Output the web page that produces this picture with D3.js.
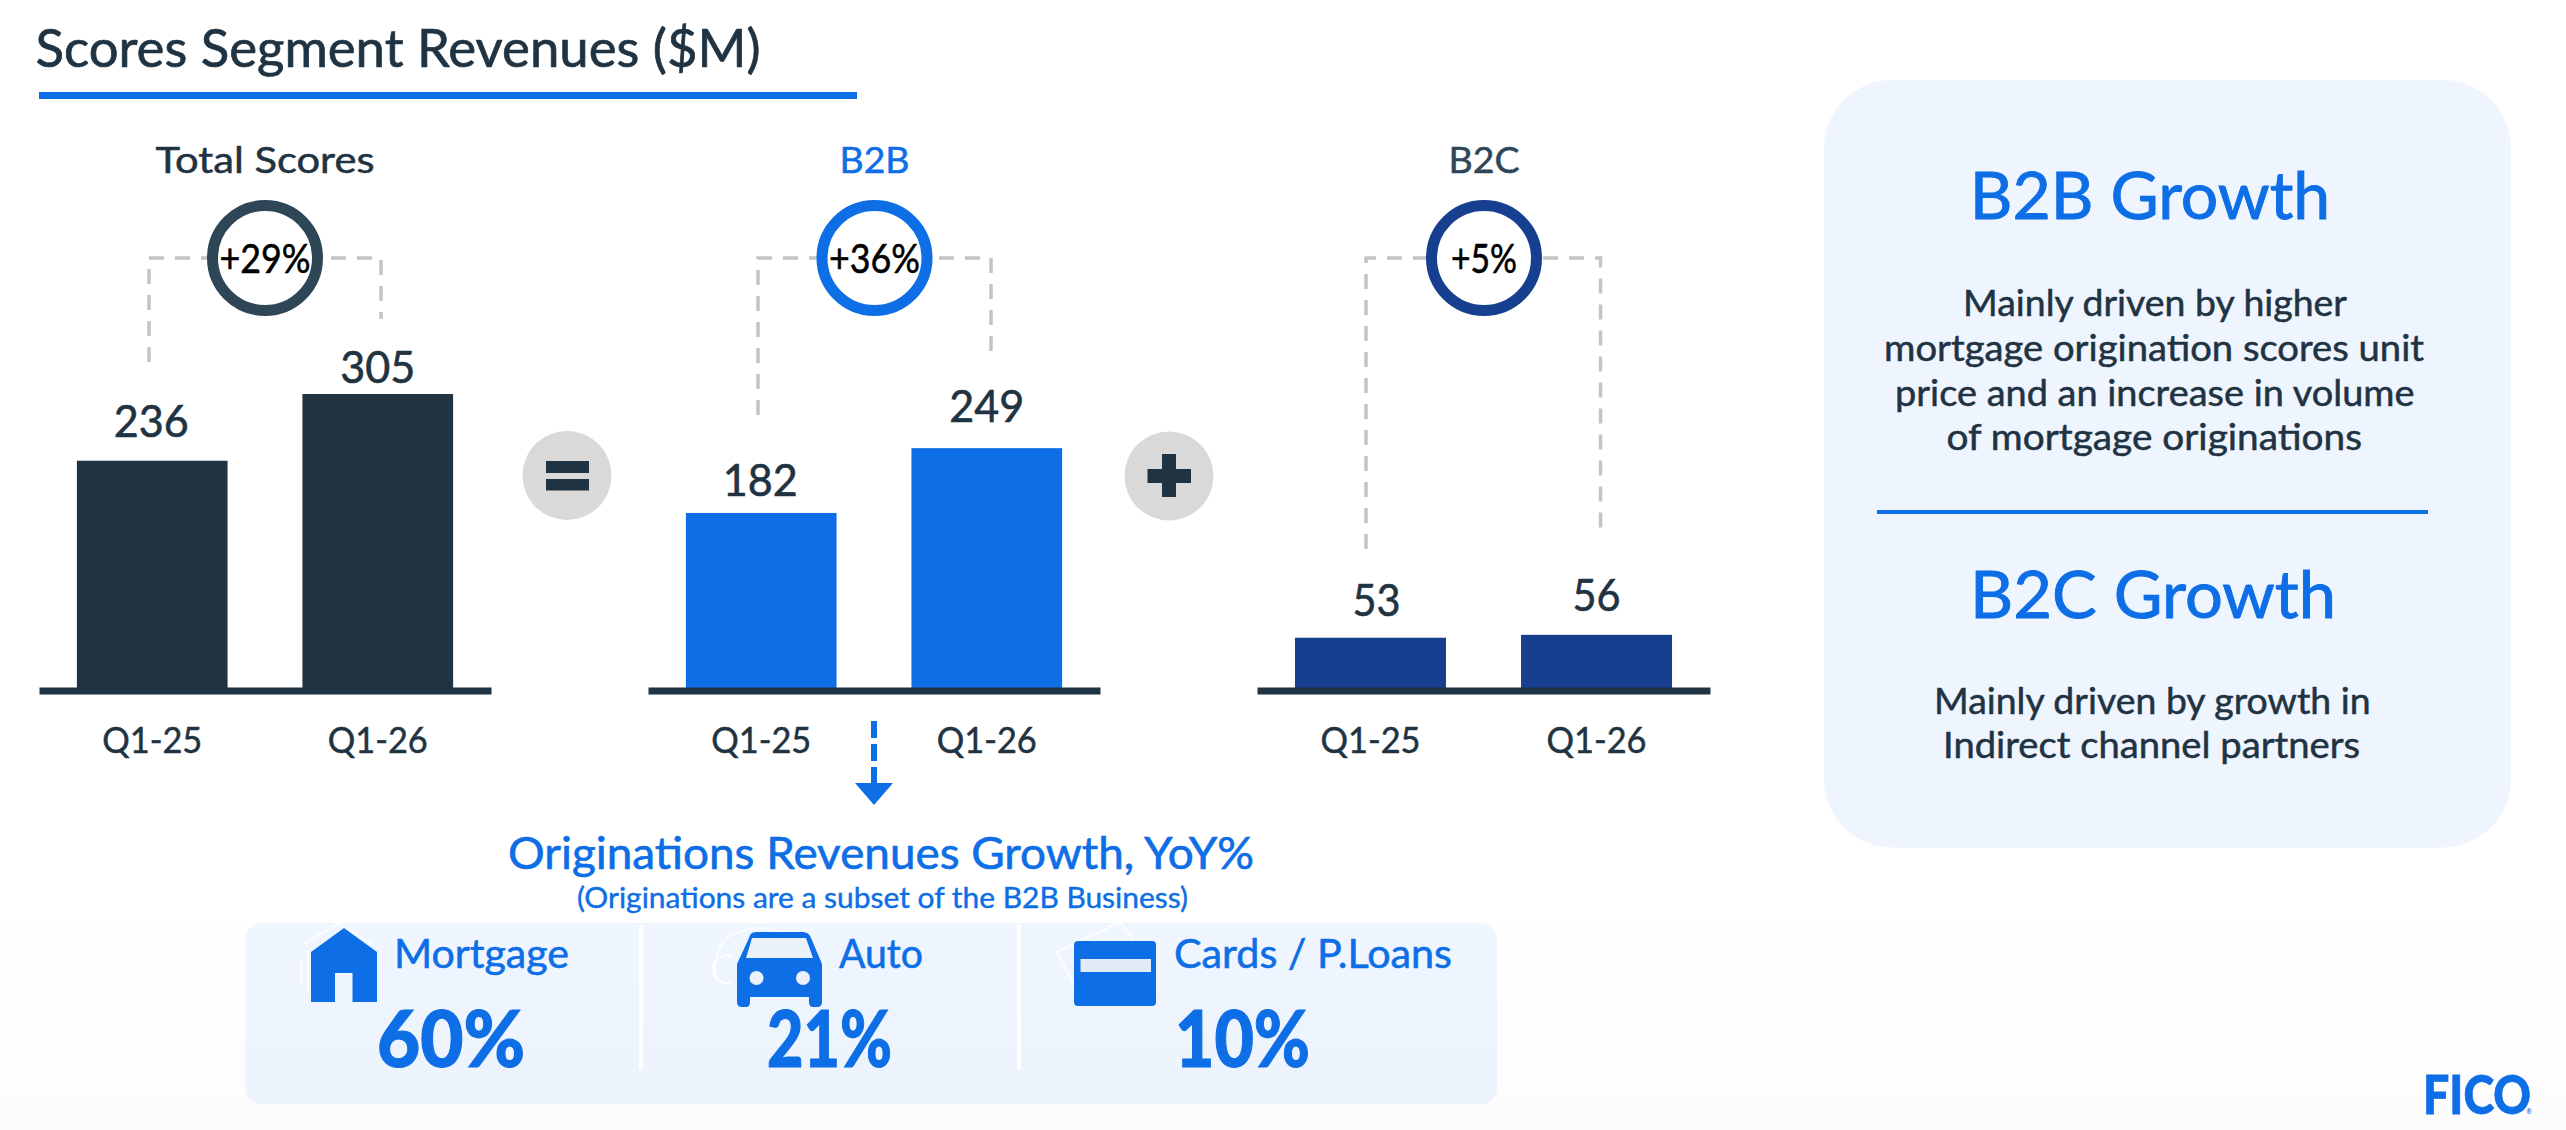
<!DOCTYPE html>
<html lang="en">
<head>
<meta charset="UTF-8">
<title>Scores Segment Revenues</title>
<script src="https://d3js.org/d3.v7.min.js"></script>
<style>
    html, body { margin: 0; padding: 0; background: #fff; }
    svg { display: block; }
    text { font-family: Lato, "Open Sans", sans-serif; }
</style>
</head>
<body>
<div id="chart"></div>
<script>
    // values
    const quarters = ["Q1-25", "Q1-26"];
    const totalValues = [236, 305];
    const b2bValues = [182, 249];
    const b2cValues = [53, 56];
    const panelNames = ["Total Scores", "B2B", "B2C"];
    const panelGrowth = ["+29%", "+36%", "+5%"];
    const originationNames = ["Mortgage", "Auto", "Cards / P.Loans"];
    const originationGrowth = ["60%", "21%", "10%"];

    const dark = "#1f3342", blue = "#0d6ee6", navy = "#163f8f", slate = "#2f4656";
    const W = 2566, H = 1130;

    const svg = d3.select("#chart").append("svg").attr("width", W).attr("height", H);

    const defs = svg.append("defs");
    const bg = defs.append("linearGradient").attr("id", "bg").attr("x1", 0).attr("x2", 0).attr("y1", 0).attr("y2", 1);
    bg.append("stop").attr("offset", "0.8").attr("stop-color", "#ffffff");
    bg.append("stop").attr("offset", "1").attr("stop-color", "#fcfcfd");
    const pg = defs.append("linearGradient").attr("id", "panel").attr("x1", 0).attr("x2", 0).attr("y1", 0).attr("y2", 1);
    pg.append("stop").attr("offset", "0").attr("stop-color", "#eff6ff");
    pg.append("stop").attr("offset", "1").attr("stop-color", "#ecf3fd");

    svg.append("rect").attr("width", W).attr("height", H).attr("fill", "url(#bg)");

    // text helper, width is the ink width seen in the reference
    // thin stroke thickens Lato towards the heavier face of the reference
    function label(g, str, x, y, size, width, color, weight) {
        return g.append("text")
            .attr("x", x).attr("y", y)
            .attr("text-anchor", "middle")
            .attr("font-size", size)
            .attr("font-weight", weight || 400)
            .attr("fill", color)
            .attr("stroke", color)
            .attr("stroke-width", size * 0.014)
            .attr("textLength", width)
            .attr("lengthAdjust", "spacingAndGlyphs")
            .text(str);
    }

    // title
    label(svg, "Scores Segment Revenues ($M)", 398, 67, 52, 725, dark);
    svg.append("rect").attr("x", 39).attr("y", 92).attr("width", 818).attr("height", 7).attr("fill", blue);

    // bar panels, all on one y scale
    const y = d3.scaleLinear().domain([0, 305]).range([689, 394]);
    const axisY = 690.5;

    const panels = [
        {name: panelNames[0], growth: panelGrowth[0], values: totalValues, range: [39, 491], bar: dark, ring: slate, title: dark,
            cx: 265, left: 149, right: 381, leftEnd: 362, rightEnd: 319, gaps: [24, 11], shift: [-1, 0], titleW: 219, growthW: 91},
        {name: panelNames[1], growth: panelGrowth[1], values: b2bValues, range: [648, 1100], bar: blue, ring: blue, title: blue,
            cx: 874.5, left: 758, right: 991, leftEnd: 415, rightEnd: 356, gaps: [17, 26], shift: [-1, 0], titleW: 70, growthW: 91},
        {name: panelNames[2], growth: panelGrowth[2], values: b2cValues, range: [1257, 1710], bar: navy, ring: navy, title: slate,
            cx: 1484, left: 1366, right: 1600.5, leftEnd: 549, rightEnd: 535, gaps: [22, 24], shift: [6, 0], titleW: 71, growthW: 66}
    ];

    panels.forEach(p => {
        const g = svg.append("g");
        const x = d3.scaleBand().domain(quarters).range(p.range).paddingInner(0.332).paddingOuter(0.168);

        // dashed connector
        g.append("path")
            .attr("d", d3.line()([[p.left, p.leftEnd], [p.left, 258], [p.right, 258], [p.right, p.rightEnd]]))
            .attr("fill", "none")
            .attr("stroke", "#c4c4c4")
            .attr("stroke-width", 3.5)
            .attr("stroke-dasharray", "15,11");

        g.append("circle")
            .attr("cx", p.cx).attr("cy", 258).attr("r", 52.5)
            .attr("fill", "#fff").attr("stroke", p.ring).attr("stroke-width", 11);

        label(g, p.name, p.cx, 173, 36, p.titleW, p.title);
        label(g, p.growth, p.cx, 273, 40, p.growthW, "#000");

        g.selectAll("rect.bar").data(p.values).join("rect")
            .attr("class", "bar")
            .attr("x", (d, i) => x(quarters[i]))
            .attr("y", d => y(d))
            .attr("width", x.bandwidth())
            .attr("height", d => y(0) - y(d))
            .attr("fill", p.bar);

        p.values.forEach((d, i) => {
            label(g, d, x(quarters[i]) + x.bandwidth() / 2 + p.shift[i], y(d) - p.gaps[i], 44, String(d).length === 3 ? 75 : 48, dark);
        });

        const axis = g.append("g")
            .attr("transform", `translate(0,${axisY})`)
            .call(d3.axisBottom(x).tickSize(0).tickSizeOuter(0));
        axis.select(".domain").attr("stroke", dark).attr("stroke-width", 7);
        axis.selectAll("text")
            .attr("y", 753 - axisY)
            .attr("dy", 0)
            .attr("font-size", 36)
            .attr("font-family", "Lato")
            .attr("fill", dark)
            .attr("stroke", dark)
            .attr("stroke-width", 0.5)
            .attr("textLength", 100)
            .attr("lengthAdjust", "spacingAndGlyphs");
    });

    // equals and plus badges
    svg.append("circle").attr("cx", 567).attr("cy", 475.5).attr("r", 44.5).attr("fill", "#d9d9d9");
    svg.append("rect").attr("x", 546).attr("y", 461).attr("width", 43).attr("height", 12).attr("fill", dark);
    svg.append("rect").attr("x", 546).attr("y", 479).attr("width", 43).attr("height", 11.5).attr("fill", dark);
    svg.append("circle").attr("cx", 1169).attr("cy", 476).attr("r", 44.5).attr("fill", "#d9d9d9");
    svg.append("rect").attr("x", 1147.5).attr("y", 469).attr("width", 43.5).attr("height", 14).attr("fill", dark);
    svg.append("rect").attr("x", 1162).attr("y", 454).attr("width", 14).attr("height", 43).attr("fill", dark);

    // dashed arrow to originations
    svg.append("line").attr("x1", 874).attr("x2", 874).attr("y1", 721).attr("y2", 784)
        .attr("stroke", blue).attr("stroke-width", 6).attr("stroke-dasharray", "17,6");
    svg.append("path").attr("d", "M855,783H893L874,805Z").attr("fill", blue);

    // originations block
    label(svg, "Originations Revenues Growth, YoY%", 881, 869, 44, 746, blue);
    label(svg, "(Originations are a subset of the B2B Business)", 882.5, 908, 29, 611, blue);

    svg.append("rect").attr("x", 245.5).attr("y", 923).attr("width", 1251.5).attr("height", 181).attr("rx", 16)
        .attr("fill", "url(#panel)");
    [641, 1019].forEach(sx => {
        svg.append("line").attr("x1", sx).attr("x2", sx).attr("y1", 925).attr("y2", 1069)
            .attr("stroke", "#fff").attr("stroke-width", 4);
    });

    const origNameX = [481.5, 881, 1313], origNameW = [175, 84, 278];
    const origValX = [451, 829.5, 1242.5], origValW = [148, 125, 135];
    originationNames.forEach((n, i) => {
        label(svg, n, origNameX[i], 968, 40, origNameW[i], blue);
        label(svg, originationGrowth[i], origValX[i], 1067, 78, origValW[i], blue, 900);
    });

    // icons: faint outlines first, solid shapes on top
    const ghost = svg.append("g").attr("fill", "none").attr("stroke", "#fff").attr("stroke-width", 2).attr("opacity", 0.8);
    ghost.append("path").attr("d", "M303,944L338,924L371,944M308,950V990H318M301,958V986");
    ghost.append("path").attr("d", "M716,980C712,950 722,935 745,930C760,926 770,928 790,935M732,982a14,14 0 1,1 0,-26");
    ghost.append("path").attr("d", "M1057,952L1120,922L1136,944M1057,952L1074,985");

    svg.append("path").attr("d", "M311,952L344,928L377,952V1002H352.5V973H335V1002H311Z").attr("fill", blue);

    svg.append("path")
        .attr("d", "M749,938Q750,932 756,932H803Q809,932 811,938L822,964V1002Q822,1007 817,1007H813Q809,1007 809,1002V997H750V1002Q750,1007 746,1007H742Q737,1007 737,1002V964Z")
        .attr("fill", blue);
    svg.append("path").attr("d", "M752,938H806L813,958H746Z").attr("fill", "#eaf1fb");
    svg.append("circle").attr("cx", 756.5).attr("cy", 978).attr("r", 7).attr("fill", "#eaf1fb");
    svg.append("circle").attr("cx", 803).attr("cy", 978).attr("r", 7).attr("fill", "#eaf1fb");

    svg.append("rect").attr("x", 1074).attr("y", 941).attr("width", 82).attr("height", 65).attr("rx", 4).attr("fill", blue);
    svg.append("rect").attr("x", 1080.5).attr("y", 959).attr("width", 70.5).attr("height", 13).attr("fill", "#e2eaf6");

    // right hand card
    svg.append("rect").attr("x", 1824).attr("y", 80).attr("width", 687).attr("height", 767.5).attr("rx", 68)
        .attr("fill", "#eef5ff");
    label(svg, "B2B Growth", 2150, 219, 66, 360.5, blue);
    label(svg, "B2C Growth", 2153, 618, 66, 366, blue);
    svg.append("rect").attr("x", 1877).attr("y", 510).attr("width", 551).attr("height", 4).attr("fill", blue);

    const noteLines = [
        "Mainly driven by higher", "mortgage origination scores unit",
        "price and an increase in volume", "of mortgage originations",
        "Mainly driven by growth in", "Indirect channel partners"
    ];
    const noteX = [2155, 2154, 2154.75, 2154.25, 2152.3, 2151.5];
    const noteY = [316, 361, 406, 450, 714, 758];
    const noteW = [384, 540, 519.5, 415.5, 436.6, 417];
    noteLines.forEach((t, i) => label(svg, t, noteX[i], noteY[i], 36, noteW[i], dark));

    // logo
    label(svg, "FICO", 2477, 1114, 54, 108, blue, 900);
    label(svg, "®", 2529, 1114, 7, 5, blue);
</script>
</body>
</html>
